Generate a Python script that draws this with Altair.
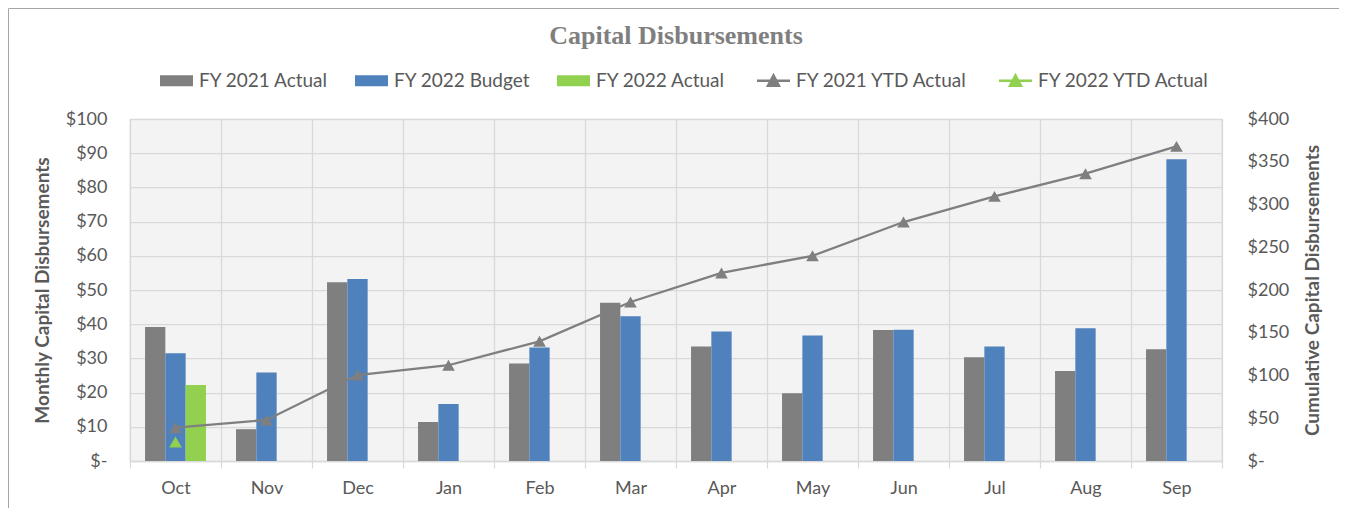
import altair as alt
import pandas as pd

# ---------------- data ----------------
months = ["Oct", "Nov", "Dec", "Jan", "Feb", "Mar", "Apr", "May", "Jun", "Jul", "Aug", "Sep"]
fy21_actual = [39.2, 9.3, 52.3, 11.4, 28.5, 46.3, 33.5, 19.8, 38.3, 30.3, 26.3, 32.7]
fy22_budget = [31.5, 25.9, 53.2, 16.7, 33.2, 42.3, 37.9, 36.7, 38.4, 33.5, 38.8, 88.2]
fy22_actual_months = ["Oct"]
fy22_actual = [22.2]
fy21_ytd = [39.0, 48.0, 100.5, 112.0, 140.0, 186.0, 220.0, 240.0, 279.5, 309.5, 336.0, 368.0]
fy22_ytd_months = ["Oct"]
fy22_ytd = [22.2]

bar_series = ["FY 2021 Actual", "FY 2022 Budget", "FY 2022 Actual"]
line_series = ["FY 2021 YTD Actual", "FY 2022 YTD Actual"]
all_series = bar_series + line_series
series_colors = ["#7f7f7f", "#4f81bd", "#92d050", "#7f7f7f", "#92d050"]

left_ticks = list(range(0, 101, 10))
right_ticks = list(range(0, 401, 50))

# ---------------- tables ----------------
bar_rows = []
for m, v in zip(months, fy21_actual):
    bar_rows.append({"month": m, "series": bar_series[0], "value": v})
for m, v in zip(months, fy22_budget):
    bar_rows.append({"month": m, "series": bar_series[1], "value": v})
for m, v in zip(fy22_actual_months, fy22_actual):
    bar_rows.append({"month": m, "series": bar_series[2], "value": v})
bar_df = pd.DataFrame(bar_rows)

line_rows = []
for m, v in zip(months, fy21_ytd):
    line_rows.append({"month": m, "series": line_series[0], "value": v})
for m, v in zip(fy22_ytd_months, fy22_ytd):
    line_rows.append({"month": m, "series": line_series[1], "value": v})
line_df = pd.DataFrame(line_rows)

# ---------------- styling ----------------
FONT = "Lato"
TXT = "#595959"
GRID = "#d9d9d9"

rect_path = "M-1,-0.33H1V0.33H-1Z"
line_path = "M-1,0H1M-0.33,0.3L0,-0.32L0.33,0.3Z"
is_line = "indexof(['FY 2021 YTD Actual','FY 2022 YTD Actual'], datum.value) >= 0"

legend = alt.Legend(
    title=None,
    orient="none",
    legendX=37,
    legendY=-48,
    direction="horizontal",
    columns=5,
    symbolSize=1089,
    symbolType=alt.ExprRef(expr=f"{is_line} ? '{line_path}' : '{rect_path}'"),
    symbolStrokeWidth=alt.ExprRef(expr=f"{is_line} ? 2.5 : 0"),
    symbolFillColor=alt.ExprRef(expr="scale('color', datum.value)"),
    symbolStrokeColor=alt.ExprRef(expr="scale('color', datum.value)"),
    symbolOpacity=1,
    labelFont=FONT,
    labelFontSize=19,
    labelColor=TXT,
    labelOffset=13,
    labelLimit=300,
    columnPadding=26,
)

color = alt.Color(
    "series:N",
    scale=alt.Scale(domain=all_series, range=series_colors),
    legend=legend,
)

x_enc = alt.X(
    "month:N",
    sort=months,
    scale=alt.Scale(paddingInner=0, paddingOuter=0),
    title=None,
    axis=alt.Axis(
        labelAngle=0,
        tickBand="extent",
        grid=True,
        gridColor=GRID,
        gridWidth=1.25,
        domainColor=GRID,
        domainWidth=1.5,
        tickColor=GRID,
        tickSize=7,
        tickWidth=1.25,
        labelPadding=11,
        labelFont=FONT,
        labelFontSize=18,
        labelColor=TXT,
    ),
)

dollar_expr = "datum.value == 0 ? '$-\u00a0\u00a0' : '$' + datum.value"

bars = alt.Chart(bar_df).mark_bar().encode(
    x=x_enc,
    xOffset=alt.XOffset(
        "series:N",
        sort=bar_series,
        scale=alt.Scale(domain=bar_series, paddingInner=0, paddingOuter=0.74),
    ),
    y=alt.Y(
        "value:Q",
        scale=alt.Scale(domain=[0, 100], nice=False),
        axis=alt.Axis(
            orient="left",
            values=left_ticks,
            labelExpr=dollar_expr,
            grid=True,
            gridColor=GRID,
            gridWidth=1.25,
            domain=False,
            ticks=False,
            tickSize=0,
            labelPadding=23,
            labelFont=FONT,
            labelFontSize=18,
            labelColor=TXT,
            title="Monthly Capital Disbursements",
            titleFont=FONT,
            titleFontSize=19,
            titleFontWeight="bold",
            titleColor=TXT,
            titleAngle=270,
            titleX=-88,
            titleY=171,
            titleAlign="center",
            titleBaseline="middle",
        ),
    ),
    color=color,
)

lines = alt.Chart(line_df).mark_line(
    strokeWidth=2.3,
    point=alt.OverlayMarkDef(shape="triangle-up", size=160, filled=True, opacity=1),
).encode(
    x=alt.X("month:N", sort=months),
    y=alt.Y(
        "value:Q",
        scale=alt.Scale(domain=[0, 400], nice=False),
        axis=alt.Axis(
            orient="right",
            values=right_ticks,
            labelExpr=dollar_expr,
            grid=False,
            domain=False,
            ticks=False,
            tickSize=0,
            labelPadding=25,
            labelAlign="left",
            labelFont=FONT,
            labelFontSize=18,
            labelColor=TXT,
            title="Cumulative Capital Disbursements",
            titleFont=FONT,
            titleFontSize=19,
            titleFontWeight="bold",
            titleColor=TXT,
            titleAngle=270,
            titleX=90,
            titleY=171,
            titleAlign="center",
            titleBaseline="middle",
        ),
    ),
    color=color,
)

border = alt.Chart(pd.DataFrame({"frame": [1]})).mark_rect(
    fill="transparent", stroke="#a6a6a6", strokeWidth=1
).encode(
    x=alt.value(-121.5),
    x2=alt.value(1209.5),
    y=alt.value(-110.5),
    y2=alt.value(430),
)

chart = (
    alt.layer(border, bars, lines)
    .resolve_scale(y="independent")
    .properties(
        width=1092,
        height=342,
        title=alt.TitleParams(
            "Capital Disbursements",
            font="Liberation Serif",
            fontSize=26,
            fontWeight="bold",
            color="#7f7f7f",
            anchor="middle",
            frame="group",
            offset=-41,
        ),
        autosize=alt.AutoSizeParams(type="none"),
        padding={"left": 122, "top": 111, "right": 117, "bottom": 50},
    )
    .configure_view(stroke=GRID, strokeWidth=1.25, fill="#f3f3f3")
)

chart.save("out.html", embed_options={"renderer": "svg", "actions": False})
